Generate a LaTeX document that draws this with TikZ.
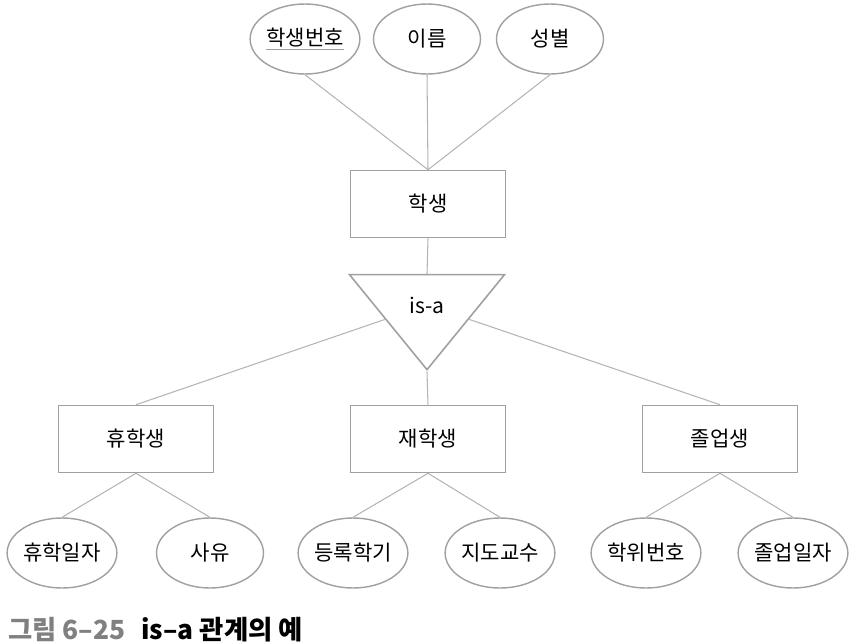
\documentclass[tikz,border=0pt]{standalone}
\usepackage{fontspec}
\setmainfont{Noto Sans CJK KR}
\usetikzlibrary{shapes.geometric}
\definecolor{boxgray}{RGB}{160,160,160}
\definecolor{linegray}{RGB}{180,180,180}
\definecolor{capgray}{RGB}{128,128,128}
\tikzset{>=latex}
\tikzstyle{entity}=[rectangle,draw=boxgray,fill=white,line width=0.9pt,minimum height=1.34cm,minimum width=3.1cm,font=\fontsize{12}{14}\selectfont]
\tikzstyle{attrib}=[ellipse,draw=boxgray,fill=white,line width=0.8pt,minimum height=1.4cm,minimum width=2.14cm,inner sep=0pt,font=\fontsize{12}{14}\selectfont]
\tikzstyle{isa}=[isosceles triangle,shape border rotate=270,isosceles triangle stretches,draw=boxgray,fill=white,line width=0.9pt,minimum height=1.9cm,minimum width=3.1cm,inner sep=0pt,font=\fontsize{12}{14}\selectfont]
\tikzstyle{link}=[draw=linegray,line width=0.6pt]
\newcommand{\keyattr}[1]{\textcolor{boxgray}{\underline{\textcolor{black}{#1}}}}

\begin{document}
\begin{tikzpicture}[x=0.02cm,y=-0.02cm]
	\useasboundingbox (0,0) rectangle (856,643);
	\def \toprow {39};
	\def \midrow {439};
	\def \botrow {553};
	
	% superclass and its attributes
	\node[attrib] (sno) at (305,\toprow) {\keyattr{학생번호}};
	\node[attrib] (sname) at (427,\toprow) {이름};
	\node[attrib] (sgender) at (550,\toprow) {성별};
	\node[entity] (student) at (428,204) {학생};
	
	\draw[link] (sno.south) -- (student.north);
	\draw[link] (sname.south) -- (student.north);
	\draw[link] (sgender.south) -- (student.north);
	
	% is-a triangle
	\node[isa] (isa) at (427,305) {is-a};
	\draw[link] (student.south) -- (isa.north);
	
	% subclasses
	\node[entity] (leave) at (136,\midrow) {휴학생};
	\node[entity] (enrolled) at (428,\midrow) {재학생};
	\node[entity] (grad) at (720,\midrow) {졸업생};
	
	\draw[link] (isa) -- (leave.north);
	\draw[link] (isa.south) -- (enrolled.north);
	\draw[link] (isa) -- (grad.north);
	
	% subclass attributes
	\node[attrib] (ldate) at (62,\botrow) {휴학일자};
	\node[attrib] (lreason) at (210,\botrow) {사유};
	\node[attrib] (eterm) at (353,\botrow) {등록학기};
	\node[attrib] (eprof) at (500,\botrow) {지도교수};
	\node[attrib] (gdeg) at (646,\botrow) {학위번호};
	\node[attrib] (gdate) at (793,\botrow) {졸업일자};
	
	\draw[link] (leave.south) -- (ldate.north);
	\draw[link] (leave.south) -- (lreason.north);
	\draw[link] (enrolled.south) -- (eterm.north);
	\draw[link] (enrolled.south) -- (eprof.north);
	\draw[link] (grad.south) -- (gdeg.north);
	\draw[link] (grad.south) -- (gdate.north);
	
	\node[anchor=base west,inner sep=0pt,font=\fontsize{15}{18}\selectfont\bfseries] (caption) at (8,639) {\textcolor{capgray}{그림 6–25}\hspace{0.6em}is–a 관계의 예};
\end{tikzpicture}
\end{document}
